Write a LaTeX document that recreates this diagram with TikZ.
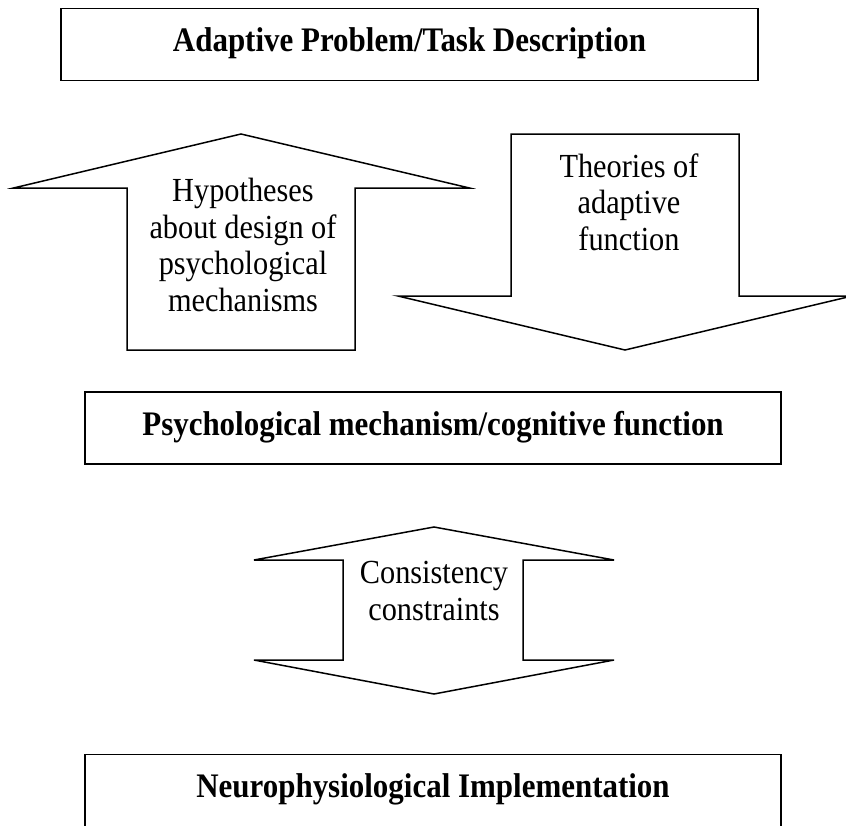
\documentclass[tikz,border=0pt]{standalone}
\usepackage{fontspec}
\setmainfont{Liberation Serif}[FakeStretch=0.9]

\begin{document}
\begin{tikzpicture}[x=1pt,y=-1pt,line width=1.5pt,
    level/.style={draw,minimum width=696pt,minimum height=72pt,inner sep=0pt,text height=24pt,text depth=10pt,font=\fontsize{34.4}{36.7}\selectfont\bfseries},
    blockarrow/.style={draw,line join=miter},
    arrowtext/.style={align=center,inner sep=0pt,font=\fontsize{33.7}{36.7}\selectfont}]
  \useasboundingbox (0,0) rectangle (846,825);
  % the three levels, top to bottom
  \node[level,minimum width=697pt] (adaptive) at (409.5,44.5) {Adaptive Problem/Task Description};
  \node[level] (mechanism) at (433,428) {Psychological mechanism/cognitive function};
  \node[level] (neuro) at (433,790.5) {Neurophysiological Implementation};
  % block arrows between them
  \draw[blockarrow] (127,350) -- (127,188) -- (13.5,188) -- (241,134) -- (469.5,188) -- (355,188) -- (355,350) -- cycle;
  \draw[blockarrow] (511,134) -- (739,134) -- (739,296) -- (852,296) -- (625,350) -- (398,296) -- (511,296) -- cycle;
  \draw[blockarrow] (343,560) -- (254,560) -- (434,527) -- (614,560) -- (523,560) -- (523,660) -- (614,660) -- (434,694) -- (254,660) -- (343,660) -- cycle;
  \node[arrowtext] (hypotheses) at (243,245) {Hypotheses\\about design of\\psychological\\mechanisms};
  \node[arrowtext] (theories) at (629,202) {Theories of\\adaptive\\function};
  \node[arrowtext] (consistency) at (434,591) {Consistency\\constraints};
\end{tikzpicture}
\end{document}
